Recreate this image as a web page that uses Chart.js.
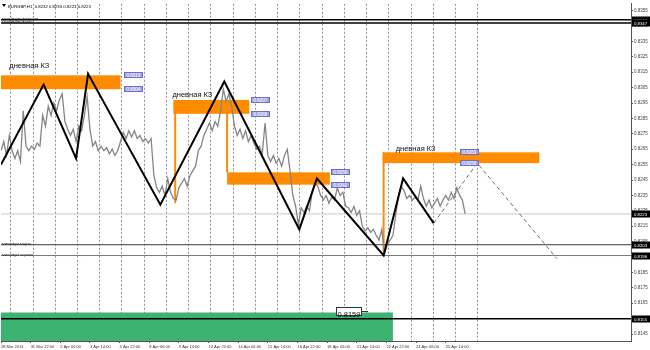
<!DOCTYPE html>
<html>
<head>
<meta charset="utf-8">
<script src="https://cdn.jsdelivr.net/npm/chart.js@4.4.1/dist/chart.umd.min.js"></script>
<style>
  html, body { margin: 0; padding: 0; background: #fff; }
  #wrap { width: 650px; height: 350px; }
</style>
</head>
<body>
<div id="wrap"><canvas id="chart" width="650" height="350"></canvas></div>
<script>
// EURGBP H1, one close every 3 bars, bar 0 = 28 Mar 14:00
const PRICE_STEP = 3;
const closes = [
  0.8264, 0.8270, 0.8261, 0.8274, 0.8264, 0.8259, 0.8264, 0.8257, 0.8290, 0.8267,
  0.8264, 0.8267, 0.8265, 0.8269, 0.8267, 0.8287, 0.8280, 0.8293, 0.8287, 0.8295,
  0.8290, 0.8297, 0.8301, 0.8283, 0.8278, 0.8274, 0.8278, 0.8270, 0.8280, 0.8277,
  0.8287, 0.8299, 0.8278, 0.8267, 0.8270, 0.8264, 0.8267, 0.8264, 0.8266, 0.8262,
  0.8265, 0.8261, 0.8264, 0.8270, 0.8276, 0.8272, 0.8277, 0.8273, 0.8277, 0.8272,
  0.8274, 0.8270, 0.8272, 0.8269, 0.8272, 0.8248, 0.8240, 0.8237, 0.8241, 0.8235,
  0.8246, 0.8237, 0.8233, 0.8232, 0.8240, 0.8243, 0.8246, 0.8241, 0.8248, 0.8251,
  0.8254, 0.8264, 0.8267, 0.8274, 0.8278, 0.8282, 0.8277, 0.8283, 0.8280, 0.8290,
  0.8304, 0.8296, 0.8301, 0.8293, 0.8280, 0.8274, 0.8278, 0.8272, 0.8277, 0.8270,
  0.8274, 0.8269, 0.8265, 0.8267, 0.8262, 0.8282, 0.8261, 0.8257, 0.8261, 0.8256,
  0.8259, 0.8254, 0.8261, 0.8265, 0.8251, 0.8235, 0.8228, 0.8216, 0.8227, 0.8224,
  0.8228, 0.8225, 0.8238, 0.8243, 0.8241, 0.8235, 0.8232, 0.8235, 0.8230, 0.8234,
  0.8232, 0.8240, 0.8235, 0.8237, 0.8228, 0.8227, 0.8224, 0.8228, 0.8222, 0.8225,
  0.8215, 0.8212, 0.8214, 0.8211, 0.8213, 0.8209, 0.8206, 0.8213, 0.8197, 0.8203,
  0.8206, 0.8209, 0.8222, 0.8235, 0.8241, 0.8238, 0.8233, 0.8235, 0.8232, 0.8234,
  0.8232, 0.8241, 0.8233, 0.8228, 0.8232, 0.8227, 0.8230, 0.8233, 0.8228, 0.8232,
  0.8235, 0.8232, 0.8237, 0.8233, 0.8240, 0.8235, 0.8232, 0.8223,
];

// zigzag swings (bar, price)
const zigzagBars = [0, 46, 81, 94, 172, 241, 322, 341, 413, 434, 467];
const zigzagPrices = [0.8255, 0.8307, 0.8259, 0.8314, 0.8229, 0.8309, 0.8213, 0.8246, 0.8196, 0.8246, 0.8217];

// dashed forecast
const forecastBars = [467, 514, 600];
const forecastPrices = [0.8217, 0.8256, 0.8194];

// daily zones ("дневная КЗ")
const zoneStart = [0, 186, 244, 412];
const zoneEnd = [129, 268, 355, 581];
const zoneTop = [0.8313, 0.8297, 0.8250, 0.8263];
const zoneBottom = [0.8304, 0.8288, 0.8242, 0.8256];
const zoneTagBar = [133, 270, 356, 495];

const stemBar = [188, 244, 413];
const stemFrom = [0.8297, 0.8288, 0.8263];
const stemTo = [0.8230, 0.8250, 0.8197];

const captionText = "дневная КЗ";
const captionBar = [9, 185, 426];
const captionPrice = [0.8318, 0.8299, 0.8264];

// horizontal levels
const levelPrices = [0.8349, 0.8347, 0.8223, 0.8203, 0.8196, 0.8155];
const levelNames = ["максимум февраля", "максимум марта", "", "минимум марта", "минимум апреля", ""];

// green block + note
const blockStart = 0;
const blockEnd = 423;
const blockTop = 0.8159;
const noteBar = 362;
const noteText = "0.8159";

const headerText = "EURGBP,H1  0.8232 0.8233 0.8223 0.8223";

const priceTicks = [
  0.8355, 0.8345, 0.8335, 0.8325, 0.8315, 0.8305, 0.8295, 0.8285, 0.8275, 0.8265, 0.8255,
  0.8245, 0.8235, 0.8225, 0.8215, 0.8205, 0.8195, 0.8185, 0.8175, 0.8165, 0.8155, 0.8145,
];
const timeTickBars = [0, 32, 64, 96, 128, 160, 192, 224, 256, 288, 320, 352, 384, 416, 448, 480];
const timeLabels = [
  "28 Mar 2014", "31 Mar 22:00", "2 Apr 06:00", "3 Apr 14:00", "4 Apr 22:00", "8 Apr 06:00",
  "9 Apr 14:00", "10 Apr 22:00", "14 Apr 06:00", "15 Apr 14:00", "16 Apr 22:00", "18 Apr 06:00",
  "21 Apr 14:00", "22 Apr 22:00", "24 Apr 06:00", "25 Apr 14:00",
];
const daySeparators = [10, 34, 58, 82, 106, 130, 154, 178, 202, 226, 250, 274, 298, 322, 346, 370, 394, 418, 442, 466, 490, 514];

const X_MIN = 0;
const X_MAX = 680;
const Y_MIN = 0.81405;
const Y_MAX = 0.83595;

const ORANGE = "#ff8c00";
const FONT = '"Liberation Sans", Arial, sans-serif';
const levelColors = ["#000", "#000", "#c8c8c8", "#3a3a3a", "#7a7a7a", "#000"];
const levelWidths = [1.5, 1.5, 1, 1, 1, 1.5];

const toPoints = (xs, ys) => xs.map((b, i) => ({ x: b, y: ys[i] }));

const drawTag = (ctx, px, py, text) => {
  ctx.fillStyle = "#a4a4e4";
  ctx.fillRect(px, py - 3, 19, 6);
  ctx.strokeStyle = "#6d6dc4";
  ctx.lineWidth = 1;
  ctx.strokeRect(px + 0.5, py - 2.5, 18, 5);
  ctx.fillStyle = "#fff";
  ctx.font = `4.5px ${FONT}`;
  ctx.textAlign = "left";
  ctx.textBaseline = "middle";
  ctx.fillText(text, px + 2.5, py + 0.5);
};

const overlayPlugin = {
  id: "overlay",
  beforeDatasetsDraw(chart) {
    const { ctx, chartArea: a, scales: { x, y } } = chart;
    ctx.save();
    ctx.beginPath();
    ctx.rect(a.left, a.top, a.right - a.left, a.bottom - a.top);
    ctx.clip();

    // day separators
    ctx.strokeStyle = "#8f8f8f";
    ctx.lineWidth = 1;
    ctx.setLineDash([2, 2]);
    daySeparators.forEach((b) => {
      const px = Math.round(x.getPixelForValue(b)) + 0.5;
      ctx.beginPath();
      ctx.moveTo(px, a.top);
      ctx.lineTo(px, a.bottom);
      ctx.stroke();
    });
    ctx.setLineDash([]);

    // green block
    const gx0 = x.getPixelForValue(blockStart);
    const gx1 = x.getPixelForValue(blockEnd);
    const gy = y.getPixelForValue(blockTop);
    ctx.fillStyle = "#3cb371";
    ctx.fillRect(gx0, gy, gx1 - gx0, a.bottom - gy);

    // zones
    ctx.fillStyle = ORANGE;
    zoneStart.forEach((s, i) => {
      const x0 = x.getPixelForValue(s);
      const x1 = x.getPixelForValue(zoneEnd[i]);
      const y0 = y.getPixelForValue(zoneTop[i]);
      const y1 = y.getPixelForValue(zoneBottom[i]);
      ctx.fillRect(x0, y0, x1 - x0, y1 - y0);
    });

    // stems
    ctx.strokeStyle = ORANGE;
    ctx.lineWidth = 2;
    stemBar.forEach((b, i) => {
      const px = x.getPixelForValue(b);
      ctx.beginPath();
      ctx.moveTo(px, y.getPixelForValue(stemFrom[i]));
      ctx.lineTo(px, y.getPixelForValue(stemTo[i]));
      ctx.stroke();
    });
    ctx.restore();
  },
  afterDatasetsDraw(chart) {
    const { ctx, scales: { x, y } } = chart;
    ctx.save();

    // captions
    ctx.fillStyle = "#111";
    ctx.font = `7.5px ${FONT}`;
    ctx.textAlign = "left";
    ctx.textBaseline = "alphabetic";
    captionBar.forEach((b, i) => {
      ctx.fillText(captionText, x.getPixelForValue(b), y.getPixelForValue(captionPrice[i]));
    });

    // price tags of zones
    zoneTagBar.forEach((b, i) => {
      const px = Math.round(x.getPixelForValue(b));
      drawTag(ctx, px, Math.round(y.getPixelForValue(zoneTop[i])), zoneTop[i].toFixed(4));
      drawTag(ctx, px, Math.round(y.getPixelForValue(zoneBottom[i])), zoneBottom[i].toFixed(4));
    });

    // note on green block
    const nx = Math.round(x.getPixelForValue(noteBar));
    const ny = Math.round(y.getPixelForValue(blockTop));
    ctx.fillStyle = "#fff";
    ctx.fillRect(nx, ny - 6, 26, 9);
    ctx.strokeStyle = "#333";
    ctx.lineWidth = 1;
    ctx.strokeRect(nx + 0.5, ny - 5.5, 25, 8);
    ctx.beginPath();
    ctx.moveTo(nx + 26, ny - 1.5);
    ctx.lineTo(nx + 32, ny - 1.5);
    ctx.stroke();
    ctx.fillStyle = "#111";
    ctx.font = `7.5px ${FONT}`;
    ctx.fillText(noteText, nx + 1.5, ny + 2);

    // level names
    ctx.fillStyle = "#222";
    ctx.font = `4px ${FONT}`;
    levelPrices.forEach((p, i) => {
      if (levelNames[i]) ctx.fillText(levelNames[i], 2, Math.round(y.getPixelForValue(p)) - 1);
    });
    ctx.restore();
  },
  afterDraw(chart) {
    const { ctx, chartArea: a, scales: { y } } = chart;
    ctx.save();

    // black level labels on the price axis
    ctx.font = `4.3px ${FONT}`;
    ctx.textAlign = "left";
    ctx.textBaseline = "middle";
    levelPrices.forEach((p) => {
      const py = Math.round(y.getPixelForValue(p));
      ctx.fillStyle = "#000";
      ctx.fillRect(a.right + 1, py - 3.5, 650 - a.right - 1, 7);
      ctx.fillStyle = "#fff";
      ctx.fillText(p.toFixed(4), a.right + 3, py + 0.5);
    });

    // header
    ctx.fillStyle = "#000";
    ctx.beginPath();
    ctx.moveTo(2, 4);
    ctx.lineTo(6, 4);
    ctx.lineTo(4, 7);
    ctx.closePath();
    ctx.fill();
    ctx.font = `4.3px ${FONT}`;
    ctx.textBaseline = "alphabetic";
    ctx.fillText(headerText, 8, 7.5);
    ctx.restore();
  },
};

Chart.defaults.font.family = FONT;

new Chart(document.getElementById("chart"), {
  type: "line",
  data: {
    datasets: [
      {
        data: toPoints(zigzagBars, zigzagPrices),
        borderColor: "#000",
        borderWidth: 2,
      },
      {
        data: toPoints(forecastBars, forecastPrices),
        borderColor: "#6e6e6e",
        borderWidth: 1,
        borderDash: [4, 3],
      },
      {
        data: closes.map((c, i) => ({ x: i * PRICE_STEP, y: c })),
        borderColor: "#858585",
        borderWidth: 1.3,
      },
      ...levelPrices.map((p, i) => ({
        data: [{ x: X_MIN, y: p }, { x: X_MAX, y: p }],
        borderColor: levelColors[i],
        borderWidth: levelWidths[i],
      })),
    ],
  },
  options: {
    responsive: false,
    animation: false,
    events: [],
    elements: { point: { radius: 0 }, line: { tension: 0 } },
    layout: { padding: { top: 2, left: 0, right: 0, bottom: 0 } },
    plugins: { legend: { display: false }, tooltip: { enabled: false } },
    scales: {
      x: {
        type: "linear",
        min: X_MIN,
        max: X_MAX,
        afterBuildTicks: (s) => {
          s.ticks = timeTickBars.map((v) => ({ value: v }));
        },
        afterFit: (s) => {
          s.height = 9;
        },
        ticks: {
          autoSkip: false,
          maxRotation: 0,
          minRotation: 0,
          align: "start",
          padding: 1,
          color: "#333",
          font: { size: 4 },
          callback: (v) => timeLabels[timeTickBars.indexOf(v)] ?? "",
        },
        grid: { drawOnChartArea: false, tickLength: 2, color: "#555" },
        border: { color: "#555" },
      },
      y: {
        type: "linear",
        position: "right",
        min: Y_MIN,
        max: Y_MAX,
        afterBuildTicks: (s) => {
          s.ticks = priceTicks.map((v) => ({ value: v }));
        },
        afterFit: (s) => {
          s.width = 19;
        },
        ticks: {
          padding: 1,
          color: "#444",
          font: { size: 4.5 },
          callback: (v) => Number(v).toFixed(4),
        },
        grid: { drawOnChartArea: false, tickLength: 2, color: "#555" },
        border: { color: "#555" },
      },
    },
  },
  plugins: [overlayPlugin],
});
</script>
</body>
</html>
